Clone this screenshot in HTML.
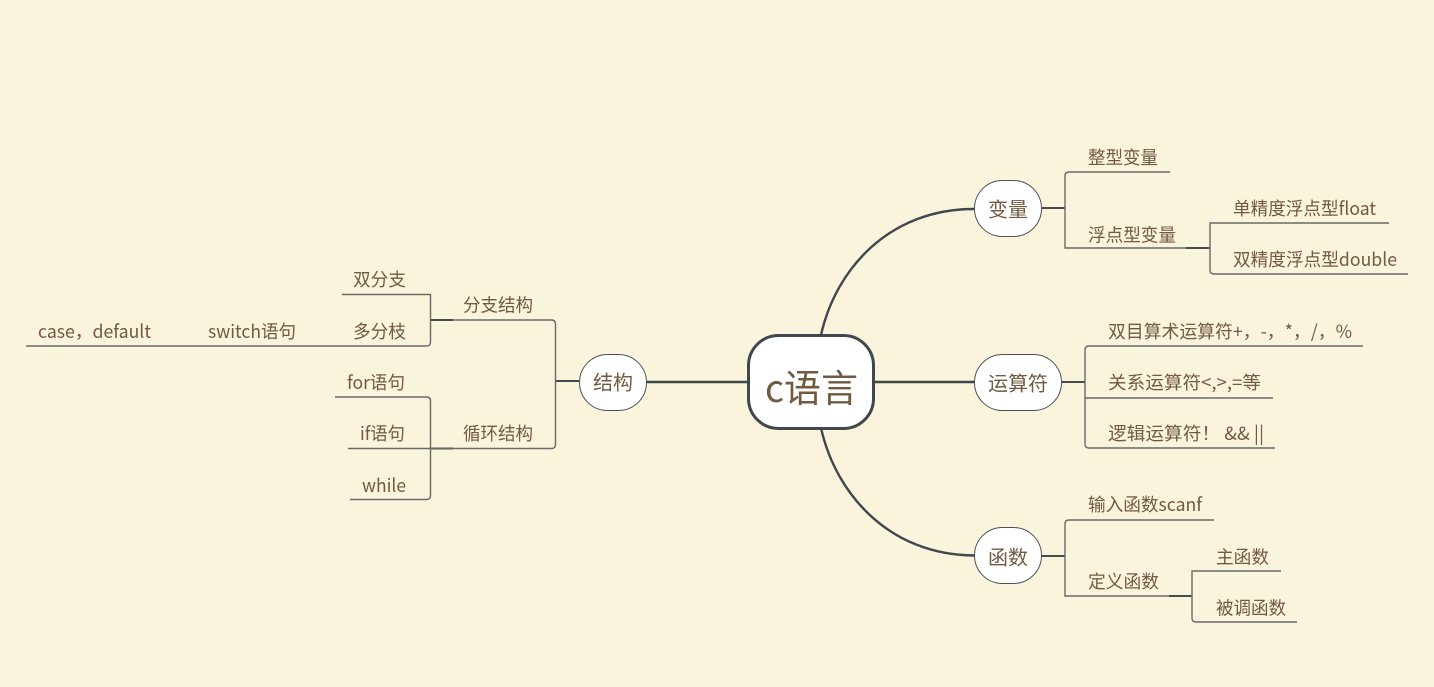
<!DOCTYPE html>
<html><head><meta charset="utf-8"><style>
html,body{margin:0;padding:0;background:#fbf4dc;width:1434px;height:687px;overflow:hidden}
svg{display:block}
text{font-family:"Noto Sans CJK SC","Liberation Sans",sans-serif;fill:#705a40;font-size:18.2px}
.m{font-size:20px}
.c{fill:none;stroke:#40474d;stroke-width:2.4}
.t{fill:none;stroke:#666a68;stroke-width:1.4}
.s{fill:none;stroke:#454b4e;stroke-width:2}
.n{fill:#fff;stroke:#4b5155;stroke-width:1}
</style></head><body>
<svg width="1434" height="687" viewBox="0 0 1434 687" xmlns="http://www.w3.org/2000/svg">
<rect width="1434" height="687" fill="#fbf4dc"/>
<path class="c" d="M821 335C836 268 890 209 974 209"/>
<path class="c" d="M821 428C836 495 890 555 974 555.500"/>
<path class="c" d="M874 382H974"/>
<path class="c" d="M647 382H748"/>

<path class="s" d="M1042 208H1065M1186 248H1210M1062 382H1085M1042 556H1065M1169 596H1192M579 381H555.500M453 320H430.500M453 448.500H430.500"/>
<path class="t" d="M1170 172H1069Q1065 172 1065 176V248H1186"/>
<path class="t" d="M1389 223H1210V270Q1210 274 1214 274H1408"/>
<path class="t" d="M1363 346H1089Q1085 346 1085 350V444Q1085 448 1089 448H1275"/>
<path class="t" d="M1085 398H1273"/>
<path class="t" d="M1214 520H1069Q1065 520 1065 524V596H1169"/>
<path class="t" d="M1281 571H1192V618Q1192 622 1196 622H1297"/>
<path class="t" d="M453 320H551.500Q555.500 320 555.500 324V444.500Q555.500 448.500 551.500 448.500H453"/>
<path class="t" d="M342 294.500H430.500V342Q430.500 346 426.500 346H26"/>
<path class="t" d="M335 397H426.500Q430.500 397 430.500 401V495.500Q430.500 499.500 426.500 499.500H350"/>
<path class="t" d="M348 448.500H453"/>

<rect x="748.500" y="335.500" width="125" height="93" rx="30" ry="30" fill="#fff" stroke="#40474d" stroke-width="3"/>
<rect class="n" x="974.500" y="180.500" width="67" height="56" rx="28"/>
<rect class="n" x="974.500" y="354.500" width="87" height="56" rx="28"/>
<rect class="n" x="974.500" y="527.500" width="67" height="56" rx="28"/>
<rect class="n" x="579.500" y="354.500" width="67" height="56" rx="28"/>

<text x="765" y="402" style="font-size:38px" textLength="93" lengthAdjust="spacingAndGlyphs">c语言</text>
<text class="m" x="988" y="216.500" textLength="40" lengthAdjust="spacingAndGlyphs">变量</text>
<text class="m" x="988" y="390.500" textLength="60" lengthAdjust="spacingAndGlyphs">运算符</text>
<text class="m" x="988" y="564.500" textLength="40" lengthAdjust="spacingAndGlyphs">函数</text>
<text class="m" x="593" y="389.500" textLength="40" lengthAdjust="spacingAndGlyphs">结构</text>

<text x="1088" y="164" textLength="70" lengthAdjust="spacingAndGlyphs">整型变量</text>
<text x="1088" y="241.500" textLength="88" lengthAdjust="spacingAndGlyphs">浮点型变量</text>
<text x="1233" y="215" textLength="143" lengthAdjust="spacingAndGlyphs">单精度浮点型float</text>
<text x="1233" y="266" textLength="164" lengthAdjust="spacingAndGlyphs">双精度浮点型double</text>
<text x="1108" y="338" textLength="244" lengthAdjust="spacingAndGlyphs">双目算术运算符+，-，*，/，%</text>
<text x="1108" y="389" textLength="153" lengthAdjust="spacingAndGlyphs">关系运算符&lt;,&gt;,=等</text>
<text x="1108" y="440" textLength="156" lengthAdjust="spacingAndGlyphs">逻辑运算符！ &amp;&amp; ||</text>
<text x="1088" y="511" textLength="114" lengthAdjust="spacingAndGlyphs">输入函数scanf</text>
<text x="1088" y="588" textLength="71" lengthAdjust="spacingAndGlyphs">定义函数</text>
<text x="1216" y="563.500" textLength="53" lengthAdjust="spacingAndGlyphs">主函数</text>
<text x="1216" y="614.500" textLength="70" lengthAdjust="spacingAndGlyphs">被调函数</text>

<text x="463" y="311.500" textLength="70" lengthAdjust="spacingAndGlyphs">分支结构</text>
<text x="463" y="440" textLength="70" lengthAdjust="spacingAndGlyphs">循环结构</text>
<text x="353" y="286" textLength="53" lengthAdjust="spacingAndGlyphs">双分支</text>
<text x="353" y="338" textLength="53" lengthAdjust="spacingAndGlyphs">多分枝</text>
<text x="208" y="338" textLength="88" lengthAdjust="spacingAndGlyphs">switch语句</text>
<text x="38" y="338" textLength="113" lengthAdjust="spacingAndGlyphs">case，default</text>
<text x="347" y="389" textLength="58" lengthAdjust="spacingAndGlyphs">for语句</text>
<text x="360" y="440" textLength="45" lengthAdjust="spacingAndGlyphs">if语句</text>
<text x="362" y="492" textLength="44" lengthAdjust="spacingAndGlyphs">while</text>
</svg>
</body></html>
